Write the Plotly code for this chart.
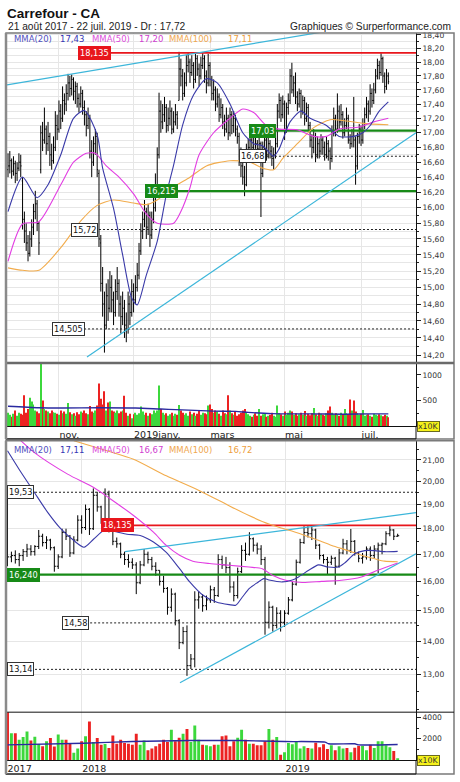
import math
import plotly.graph_objects as go

W, H = 460, 782

# ------------------------------------------------------------------ DATA
# Top chart: daily bars (trading-day index), 24 Sep 2018 -> 22 Jul 2019
d_open = [16.50,16.55,16.62,16.48,16.58,16.45,16.52,16.60,16.35,15.85,
          15.70,15.55,15.42,15.60,15.75,15.95,16.05,15.80,16.50,17.00,
          16.90,17.05,16.85,16.95,16.70,16.62,16.80,17.10,17.05,17.30,
          17.20,17.45,17.40,17.55,17.70,17.62,17.75,17.58,17.65,17.48,
          17.40,17.55,17.35,17.25,17.10,17.20,16.75,16.60,16.85,16.95,
          16.45,15.55,15.05,14.80,14.55,14.90,14.75,15.00,14.85,14.70,
          14.95,15.05,14.80,14.65,14.75,14.55,14.50,14.80,14.70,14.95,
          14.85,15.00,15.15,15.45,15.70,15.85,15.95,15.75,15.90,15.65,
          15.85,16.00,16.30,16.70,17.30,17.15,17.25,17.35,17.10,17.20,
          17.30,17.05,17.15,17.25,17.45,17.90,17.80,17.55,17.70,17.95,
          18.00,17.85,17.95,17.75,18.05,17.90,17.80,17.95,18.05,17.80,
          17.70,17.95,17.75,17.55,17.60,17.40,17.50,17.25,17.35,17.15,
          17.05,17.20,17.00,17.25,17.10,17.20,17.05,16.95,16.65,16.55,
          16.40,16.30,16.75,16.80,16.90,16.80,16.95,16.85,16.78,16.85,
          16.45,16.80,16.90,16.70,16.85,16.75,16.65,16.70,16.85,17.30,
          17.45,17.25,17.40,17.05,17.35,17.45,17.80,17.60,17.70,17.50,
          17.40,17.55,17.30,17.45,17.20,17.35,17.10,16.90,16.80,16.95,
          16.70,16.85,16.75,16.90,16.80,16.70,16.85,16.75,16.65,17.00,
          17.20,17.05,17.30,17.15,17.25,17.00,17.10,17.20,16.90,16.85,
          16.95,16.90,16.55,16.95,17.05,16.90,17.10,17.25,17.40,17.30,
          17.55,17.45,17.60,17.80,17.95,17.85,18.05,17.80,17.65,17.80]
d_high = [16.72,16.75,16.65,16.68,16.62,16.60,16.72,16.70,16.40,15.95,
          15.80,15.65,15.70,15.85,16.05,16.22,16.10,15.82,17.10,17.15,
          17.35,17.10,17.15,17.00,16.85,16.95,17.30,17.25,17.45,17.40,
          17.65,17.55,17.68,17.83,17.80,17.82,17.78,17.72,17.70,17.55,
          17.65,17.60,17.45,17.30,17.35,17.25,16.90,16.95,17.05,17.00,
          16.50,15.65,15.25,14.95,15.05,15.10,15.20,15.15,14.95,15.10,
          15.25,15.10,14.90,14.95,14.85,14.70,14.95,14.90,15.10,15.05,
          15.15,15.30,15.55,15.80,15.95,16.10,16.00,16.05,15.95,15.95,
          16.15,16.45,16.80,17.56,17.45,17.40,17.50,17.40,17.35,17.45,
          17.35,17.30,17.40,17.30,18.15,18.05,17.90,17.85,18.10,18.13,
          18.05,18.10,18.00,18.12,18.10,17.98,18.08,18.13,18.10,17.88,
          18.12,18.00,17.80,17.75,17.65,17.62,17.55,17.48,17.40,17.25,
          17.35,17.25,17.35,17.30,17.30,17.25,17.10,17.00,16.80,16.62,
          16.55,16.85,16.92,16.98,16.95,17.02,17.00,16.90,16.95,16.88,
          16.88,16.98,16.95,16.95,16.90,16.82,16.80,16.95,17.40,17.55,
          17.50,17.52,17.45,17.42,17.55,17.90,17.99,17.80,17.85,17.58,
          17.62,17.60,17.52,17.50,17.42,17.40,17.15,16.98,17.05,17.00,
          16.95,16.92,16.98,16.95,16.88,16.95,16.90,16.80,17.10,17.35,
          17.25,17.55,17.38,17.40,17.30,17.20,17.35,17.25,16.98,17.05,
          17.50,16.95,17.00,17.12,17.10,17.20,17.35,17.50,17.45,17.68,
          17.62,17.70,17.90,18.05,18.02,18.13,18.08,17.85,17.90,17.85]
d_low = [16.40,16.45,16.38,16.42,16.32,16.35,16.48,16.40,15.72,15.55,
         15.45,15.32,15.38,15.50,15.65,15.85,15.70,15.40,16.45,16.75,
         16.85,16.70,16.75,16.55,16.50,16.58,16.75,16.90,17.00,17.05,
         17.15,17.25,17.30,17.45,17.50,17.52,17.45,17.40,17.35,17.28,
         17.35,17.25,17.10,16.95,17.05,16.65,16.40,16.55,16.70,16.40,
         15.50,14.95,14.65,14.23,14.50,14.60,14.70,14.70,14.55,14.65,
         14.85,14.65,14.45,14.55,14.40,14.35,14.45,14.55,14.65,14.70,
         14.80,14.95,15.10,15.40,15.60,15.75,15.60,15.65,15.50,15.60,
         15.80,15.95,16.20,16.65,17.00,17.05,17.15,17.00,17.02,17.10,
         16.98,17.00,17.10,17.05,17.45,17.65,17.45,17.50,17.65,17.85,
         17.70,17.80,17.62,17.70,17.80,17.65,17.75,17.90,17.70,17.55,
         17.65,17.65,17.45,17.45,17.30,17.35,17.15,17.20,17.05,16.95,
         17.00,16.90,16.95,16.98,17.00,16.95,16.85,16.55,16.40,16.30,
         16.15,16.28,16.60,16.70,16.70,16.75,16.78,16.70,16.72,15.88,
         16.40,16.70,16.62,16.65,16.65,16.55,16.50,16.65,16.80,17.20,
         17.15,17.20,16.90,17.00,17.25,17.40,17.55,17.50,17.40,17.30,
         17.35,17.20,17.25,17.10,17.15,17.02,16.80,16.65,16.72,16.60,
         16.65,16.65,16.70,16.70,16.62,16.65,16.62,16.50,16.60,16.95,
         16.95,17.00,17.05,17.10,16.92,16.95,17.05,16.85,16.78,16.80,
         16.80,16.30,16.50,16.85,16.82,16.85,17.05,17.20,17.15,17.25,
         17.35,17.40,17.55,17.75,17.75,17.80,17.70,17.55,17.60,17.68]
d_close = [16.55,16.62,16.48,16.58,16.45,16.52,16.60,16.55,15.85,15.70,
           15.55,15.42,15.60,15.75,15.95,16.05,15.80,15.55,17.00,16.90,
           17.05,16.85,16.95,16.70,16.62,16.80,17.10,17.05,17.30,17.20,
           17.45,17.40,17.55,17.70,17.62,17.75,17.58,17.65,17.48,17.40,
           17.55,17.35,17.25,17.10,17.20,16.75,16.60,16.85,16.95,16.50,
           15.60,15.05,14.80,14.55,14.90,14.75,15.00,14.85,14.70,14.95,
           15.05,14.80,14.65,14.75,14.55,14.50,14.80,14.70,14.95,14.85,
           15.00,15.15,15.45,15.70,15.85,15.95,15.75,15.90,15.65,15.85,
           16.00,16.30,16.70,17.30,17.15,17.25,17.35,17.10,17.20,17.30,
           17.05,17.15,17.25,17.20,17.90,17.80,17.55,17.70,17.95,18.00,
           17.85,17.95,17.75,18.05,17.90,17.80,17.95,18.05,17.80,17.70,
           17.95,17.75,17.55,17.60,17.40,17.50,17.25,17.35,17.15,17.05,
           17.20,17.00,17.25,17.10,17.20,17.05,16.95,16.65,16.55,16.40,
           16.30,16.75,16.80,16.90,16.80,16.95,16.85,16.78,16.85,16.45,
           16.80,16.90,16.70,16.85,16.75,16.65,16.70,16.85,17.30,17.45,
           17.25,17.40,17.05,17.35,17.45,17.80,17.60,17.70,17.50,17.40,
           17.55,17.30,17.45,17.20,17.35,17.10,16.90,16.80,16.95,16.70,
           16.85,16.75,16.90,16.80,16.70,16.85,16.75,16.65,17.00,17.20,
           17.05,17.30,17.15,17.25,17.00,17.10,17.20,16.90,16.85,16.95,
           16.90,16.55,16.95,17.05,16.90,17.10,17.25,17.40,17.30,17.55,
           17.45,17.60,17.80,17.95,17.85,18.05,17.80,17.65,17.80,17.72]
d_vol = [260,220,180,240,300,200,260,240,220,600,
         260,330,550,480,420,300,280,250,1230,500,
         330,300,280,250,300,270,260,240,220,300,
         250,280,240,450,270,230,250,200,270,230,
         280,260,300,250,230,390,280,260,300,400,
         830,530,420,680,300,460,480,300,280,260,
         300,250,280,300,590,260,200,240,150,230,
         260,220,250,380,280,220,260,200,250,230,
         300,260,300,790,330,260,220,250,200,230,
         260,200,240,220,410,300,260,220,250,200,
         280,230,260,200,240,300,220,260,250,230,
         400,420,330,260,300,280,240,200,300,250,
         230,600,300,250,220,280,200,230,260,300,
         330,260,230,200,180,220,250,200,330,200,
         230,250,180,200,220,260,200,180,400,250,
         230,200,280,220,260,300,280,220,250,200,
         230,260,220,290,200,240,210,250,350,230,
         200,260,240,220,200,250,300,380,260,220,
         250,230,200,260,220,330,250,230,520,300,
         500,280,250,220,240,310,200,220,230,200,
         180,240,220,200,230,210,190,220,200,170]
d_tick_idx = [28, 69, 111, 152, 194]
d_tick_lbl = ["nov.", "2019janv.", "mars", "mai", "juil."]

d_ma20_i = [0,8,16,22,29,36,42,49,52,58,63,68,71,76,82,87,91,96,102,109,
            115,122,129,135,140,146,149,155,161,166,175,182,190,195,199,204,209]
d_ma20 = [15.95,16.40,16.13,16.30,16.70,17.20,17.31,16.97,16.52,15.99,
          15.40,14.87,14.79,15.15,15.57,16.17,16.56,17.11,17.53,17.76,
          17.70,17.40,17.00,16.85,16.82,16.68,16.78,17.15,17.30,17.20,
          17.10,16.95,16.95,17.00,17.10,17.30,17.43]
d_ma50_i = [0,8,17,29,36,43,48,54,61,69,76,82,91,95,100,105,113,122,129,135,
            142,149,159,168,175,182,193,201,209]
d_ma50 = [15.32,15.79,15.82,16.30,16.60,16.72,16.72,16.55,16.40,16.18,
          15.92,15.80,15.80,15.95,16.26,16.70,17.00,17.20,17.33,17.28,
          17.10,17.05,17.04,16.95,16.95,17.05,17.08,17.15,17.20]
d_ma100_i = [0,8,17,29,40,49,58,69,76,82,91,100,109,122,133,140,146,151,159,168,
             177,184,195,209]
d_ma100 = [15.24,15.21,15.21,15.49,15.83,16.03,16.10,16.06,16.04,16.10,
           16.27,16.40,16.55,16.62,16.60,16.52,16.50,16.65,16.85,17.07,
           17.18,17.17,17.13,17.11]
d_vma_i = [0,17,30,50,70,84,92,113,125,132,145,165,185,200,209]
d_vma = [385,355,350,355,350,330,320,290,285,265,240,235,230,235,235]

d_trend_up_i = [-0.55, 224.2]
d_trend_up_p = [17.67, 18.68]
d_trend_lo_i = [43.4, 224.2]
d_trend_lo_p = [14.18, 17.0]

top_levels = [18.135, 17.03, 16.68, 16.215, 15.72, 14.505]
top_level_lbl = ["18,135", "17,03", "16,68", "16,215", "15,72", "14,505"]
top_legend_vals = ["17,43", "17,20", "17,11"]

# Bottom chart: weekly bars (week index), 21 Aug 2017 -> 22 Jul 2019
w_open = [19.30,16.90,16.95,16.80,16.95,17.10,17.20,17.10,17.30,17.70,
          17.45,17.55,17.25,16.55,16.90,17.85,17.70,17.05,17.55,18.35,
          18.05,18.80,18.00,19.40,18.90,18.40,19.45,18.05,17.50,17.40,
          17.00,16.80,16.70,16.60,15.95,16.60,17.00,16.80,16.55,16.40,
          16.00,15.75,15.10,15.55,14.65,13.95,14.30,13.25,13.45,15.35,
          15.45,15.15,15.35,15.70,15.50,16.80,16.60,16.50,15.80,15.50,
          16.35,17.15,17.00,17.60,17.35,17.20,16.80,14.60,15.10,14.50,
          14.90,14.60,14.90,15.35,15.90,16.70,17.45,17.85,17.80,17.95,
          17.35,16.95,16.80,16.70,16.85,16.55,17.05,17.40,17.15,17.50,
          17.05,16.85,16.90,17.20,16.95,17.20,17.35,17.40,17.80,17.95,
          17.70]
w_high = [19.45,17.10,17.15,17.05,17.20,17.40,17.35,17.35,17.95,17.80,
          17.70,17.60,17.30,17.00,18.00,18.00,17.75,17.70,18.55,18.55,
          19.00,18.85,19.70,19.55,18.95,19.70,19.60,18.10,17.65,17.45,
          17.10,17.00,16.85,16.70,16.75,17.20,17.10,16.90,16.70,16.40,
          16.20,15.80,15.75,15.60,14.70,14.45,14.50,13.60,15.65,15.65,
          15.55,15.50,15.85,15.80,17.00,16.95,16.90,16.70,16.00,16.50,
          17.35,17.45,17.86,17.65,17.45,17.35,16.90,15.30,15.15,15.10,
          15.00,15.00,15.45,16.00,16.80,17.60,18.10,18.10,18.12,18.00,
          17.40,17.00,16.90,16.95,16.90,17.20,17.60,17.55,17.99,17.55,
          17.10,17.05,17.30,17.30,17.35,17.45,17.45,17.90,18.13,17.98,
          17.80]
w_low = [16.55,16.70,16.65,16.55,16.75,16.90,16.95,16.95,17.20,17.30,
         17.20,17.15,16.35,16.45,16.85,17.55,16.90,17.00,17.50,17.80,
         17.95,17.75,17.95,18.70,18.20,18.35,17.85,17.35,17.25,16.85,
         16.60,16.50,16.45,15.55,15.90,16.55,16.65,16.40,16.20,15.85,
         15.60,14.85,14.95,14.50,13.75,13.90,12.95,13.15,13.20,15.05,
         14.95,15.00,15.25,15.25,15.45,16.45,16.30,15.60,15.30,15.40,
         16.30,16.75,16.95,17.10,17.00,16.60,14.20,14.40,14.30,14.40,
         14.30,14.45,14.85,15.30,15.85,16.65,17.40,17.65,17.55,17.20,
         16.80,16.65,16.25,16.60,15.88,16.50,17.00,17.00,17.05,16.95,
         16.70,16.65,16.80,16.75,16.85,16.30,17.00,17.35,17.70,17.55,
         17.68]
w_close = [16.90,16.95,16.80,16.95,17.10,17.20,17.10,17.30,17.70,17.45,
           17.55,17.25,16.55,16.90,17.85,17.70,17.05,17.55,18.35,18.05,
           18.80,18.00,19.40,18.90,18.40,19.45,18.05,17.50,17.40,17.00,
           16.80,16.70,16.60,15.95,16.60,17.00,16.80,16.55,16.40,16.00,
           15.75,15.10,15.55,14.65,13.95,14.30,13.25,13.45,15.35,15.45,
           15.15,15.35,15.70,15.50,16.80,16.60,16.50,15.80,15.50,16.35,
           17.15,17.00,17.60,17.35,17.20,16.80,14.60,15.10,14.50,14.90,
           14.60,14.90,15.35,15.90,16.70,17.45,17.85,17.80,17.95,17.35,
           16.95,16.80,16.70,16.85,16.55,17.05,17.40,17.15,17.50,17.05,
           16.85,16.90,17.20,16.95,17.20,17.35,17.40,17.80,17.95,17.70,
           17.72]
w_vol = [5000,2520,2520,1900,2160,2680,1835,2200,1520,1300,
         1760,2080,1270,2400,1900,1900,1600,680,1090,1760,
         2230,3620,1700,2080,1450,1500,1130,2310,1540,1900,
         1600,1540,1450,2470,1450,1830,920,1090,1290,1540,
         1900,1700,2840,1760,2100,2470,2930,1700,3250,1900,
         1450,1400,1300,1450,1450,2230,2310,1300,1760,2100,
         2840,1900,1540,1540,1400,1400,1760,2930,1900,2160,
         490,740,1600,1480,1760,1090,1300,1130,1090,1630,
         1210,1480,1030,1400,920,1300,1090,1130,740,1160,
         1330,1330,920,1450,1130,1760,1760,1400,1210,840,
         100]
w_tick_idx = [-0.13, 19, 71.14]
w_tick_lbl = ["2017", "2018", "2019"]

w_ma20_i = [0,3.5,6.9,10.3,13.7,17,19.6,22.1,24.7,27.2,30.6,34,37.4,40.7,44.1,46.7,
            50.1,53.5,56.8,58.5,60.2,62,64,65.7,67,70.4,73,74.6,77.2,79.7,82.2,84.8,
            86.5,89,91.6,94.1,96.6,100]
w_ma20 = [21.43,20.41,19.52,18.67,17.99,17.53,17.27,17.59,17.93,17.90,
          17.78,17.73,17.47,17.07,16.46,15.98,15.51,15.28,15.19,15.17,
          15.45,15.75,15.95,16.10,16.05,15.98,16.05,16.16,16.40,16.60,
          16.52,16.52,16.68,17.02,17.14,17.14,17.10,17.11]
w_ma50_i = [3.4,6.9,15.4,22.1,26.4,32.3,37.4,40.7,44.1,47.5,51.8,56.8,61.9,65.3,
            67.9,71.3,75.5,80.5,85.6,90.7,94.9,100]
w_ma50 = [21.92,21.34,20.34,19.74,19.24,18.54,17.86,17.34,16.96,16.74,
          16.65,16.59,16.52,16.46,16.22,16.04,15.96,16.00,16.04,16.16,
          16.40,16.67]
w_ma100_i = [17,25.5,32.3,40.7,49.2,56.8,61.9,67.0,69.5,73.8,78.8,83.1,87.3,90.7,
             94.1,96.6,100]
w_ma100 = [21.92,21.43,21.03,20.26,19.60,18.95,18.54,18.19,18.06,17.86,
           17.59,17.34,17.14,16.96,16.83,16.74,16.72]
w_vma_i = [0,19.5,32,46.7,59.4,71,81.4,82.3,89,90,100]
w_vma = [1430,1580,1740,1835,1835,1740,1680,1530,1530,1430,1460]

w_trend_up_i = [30.1, 104.7]
w_trend_up_p = [17.1, 18.66]
w_trend_lo_i = [44.2, 104.7]
w_trend_lo_p = [12.75, 17.02]

bot_levels = [19.53, 18.135, 16.24, 14.58, 13.14]
bot_level_lbl = ["19,53", "18,135", "16,240", "14,58", "13,14"]
bot_legend_vals = ["17,11", "16,67", "16,72"]

# ------------------------------------------------------------------ STYLE / LAYOUT
def fx(px):
    return px / W

def fy(py):
    return 1 - py / H

X_L, X_R = 7, 416
D_RANGE = [-0.55, 224.2]
W_RANGE = [-0.13, 104.7]
TOP_PRANGE = [math.log10(14.11), math.log10(18.43)]
BOT_PRANGE = [math.log10(11.94), math.log10(21.91)]

C20, C50, C100 = "#3a3aa8", "#e23de2", "#f2ac4c"
CYAN = "#3cb6da"
UPV, DNV = "#3cd83c", "#ec2222"
RED, GREEN = "#e8161c", "#178a17"
GRID = "#e6e6e6"
FONT = "DejaVu Sans"

# level label styles & positions (kind, x of label box)
top_level_kind = ["res", "sup", "dash", "sup", "dash", "dash"]
top_level_x = [38.5, 132.4, 126.9, 75.3, 34.6, 24.2]
bot_level_kind = ["dash", "res", "sup", "dash", "dash"]
bot_level_x = [W_RANGE[0], 24.0, W_RANGE[0], 14.0, W_RANGE[0]]

fig = go.Figure()


def level_lines(levels, kinds, xs, xend, xa, ya):
    for v, k, x0 in zip(levels, kinds, xs):
        if k == "res":
            ln = dict(color=RED, width=1.6)
        elif k == "sup":
            ln = dict(color=GREEN, width=2.2)
        else:
            ln = dict(color="#222222", width=1, dash="2px,2px")
        fig.add_trace(go.Scatter(x=[x0, xend], y=[v, v], mode="lines", line=ln,
                                 xaxis=xa, yaxis=ya, hoverinfo="skip", showlegend=False))


def trend(xs, ps, xa, ya):
    fig.add_trace(go.Scatter(x=xs, y=ps, mode="lines", line=dict(color=CYAN, width=1.2),
                             xaxis=xa, yaxis=ya, hoverinfo="skip", showlegend=False))


def ohlc(x, o, h, l, c, xa, ya, tw):
    fig.add_trace(go.Ohlc(x=x, open=o, high=h, low=l, close=c, xaxis=xa, yaxis=ya,
                          increasing=dict(line=dict(color="black", width=1)),
                          decreasing=dict(line=dict(color="black", width=1)),
                          tickwidth=tw, hoverinfo="skip", showlegend=False))


def ma(xs, ys, color, xa, ya, w=1.1):
    fig.add_trace(go.Scatter(x=xs, y=ys, mode="lines",
                             line=dict(color=color, width=w, shape="spline", smoothing=0.7),
                             xaxis=xa, yaxis=ya, hoverinfo="skip", showlegend=False))


def volume(x, v, o, c, xa, ya, width):
    cols = [UPV if cc >= oo else DNV for oo, cc in zip(o, c)]
    fig.add_trace(go.Bar(x=x, y=v, marker=dict(color=cols, line=dict(width=0)), width=width,
                         xaxis=xa, yaxis=ya, hoverinfo="skip", showlegend=False))


d_x = list(range(len(d_close)))
w_x = list(range(len(w_close)))

# top chart
level_lines(top_levels, top_level_kind, top_level_x, D_RANGE[1], "x", "y")
trend(d_trend_up_i, d_trend_up_p, "x", "y")
trend(d_trend_lo_i, d_trend_lo_p, "x", "y")
ohlc(d_x, d_open, d_high, d_low, d_close, "x", "y", 0.45)
ma(d_ma100_i, d_ma100, C100, "x", "y")
ma(d_ma50_i, d_ma50, C50, "x", "y")
ma(d_ma20_i, d_ma20, C20, "x", "y")
volume(d_x, d_vol, d_open, d_close, "x", "y2", 0.55)
ma(d_vma_i, d_vma, "#2a2aa0", "x", "y2", 1.4)

# bottom chart
level_lines(bot_levels, bot_level_kind, bot_level_x, W_RANGE[1], "x2", "y3")
trend(w_trend_up_i, w_trend_up_p, "x2", "y3")
trend(w_trend_lo_i, w_trend_lo_p, "x2", "y3")
ohlc(w_x, w_open, w_high, w_low, w_close, "x2", "y3", 0.4)
ma(w_ma100_i, w_ma100, C100, "x2", "y3")
ma(w_ma50_i, w_ma50, C50, "x2", "y3")
ma(w_ma20_i, w_ma20, C20, "x2", "y3")
volume(w_x, w_vol, w_open, w_close, "x2", "y4", 0.75)
ma(w_vma_i, w_vma, "#2a2aa0", "x2", "y4", 1.4)

# ---- axes
def fmt2(v):
    return f"{v:.2f}".replace(".", ",")

top_major = [round(14.2 + 0.2 * k, 2) for k in range(22)]
top_minor = [round(14.1 + 0.2 * k, 2) for k in range(22)]
bot_major = [float(k) for k in range(13, 22)]
bot_minor = [12.0] + [k + 0.5 for k in range(12, 22)]

tickfont = dict(family=FONT, size=7.6, color="#333333")
common_y = dict(side="right", ticks="outside", ticklen=4, tickcolor="#222",
                showline=True, linecolor="#111", linewidth=1, zeroline=False,
                tickfont=tickfont, fixedrange=True)

fig.update_layout(
    width=W, height=H, margin=dict(l=0, r=0, t=0, b=0),
    paper_bgcolor="white", plot_bgcolor="white", showlegend=False,
    xaxis=dict(domain=[fx(X_L), fx(X_R)], range=D_RANGE, anchor="y2",
               tickmode="array", tickvals=d_tick_idx, ticktext=d_tick_lbl,
               ticks="", showgrid=True, gridcolor=GRID, showline=True, linecolor="#111",
               zeroline=False, ticklabelposition="outside right",
               tickfont=dict(family=FONT, size=9.5, color="#222"),
               rangeslider=dict(visible=False)),
    yaxis=dict(domain=[fy(362), fy(31)], type="log", range=TOP_PRANGE, anchor="x",
               tickmode="array", tickvals=top_major, ticktext=[fmt2(v) for v in top_major],
               showgrid=True, gridcolor=GRID,
               minor=dict(tickmode="array", tickvals=top_minor, ticks="outside", ticklen=2,
                          tickcolor="#222", showgrid=True, gridcolor=GRID),
               **common_y),
    yaxis2=dict(domain=[fy(425), fy(363)], range=[0, 1212], anchor="x",
                tickmode="array", tickvals=[500, 1000], ticktext=["500", "1000"],
                showgrid=False,
                minor=dict(tickmode="array", tickvals=[250, 750], ticks="outside",
                           ticklen=2, tickcolor="#222", showgrid=False),
                **common_y),
    xaxis2=dict(domain=[fx(X_L), fx(X_R)], range=W_RANGE, anchor="y4",
                tickmode="array", tickvals=w_tick_idx, ticktext=w_tick_lbl,
                ticks="", showgrid=True, gridcolor=GRID, showline=True, linecolor="#111",
                zeroline=False, ticklabelposition="outside right",
                tickfont=dict(family=FONT, size=9.5, color="#222"),
                rangeslider=dict(visible=False)),
    yaxis3=dict(domain=[fy(712), fy(440)], type="log", range=BOT_PRANGE, anchor="x2",
                tickmode="array", tickvals=bot_major, ticktext=[fmt2(v) for v in bot_major],
                showgrid=True, gridcolor=GRID,
                minor=dict(tickmode="array", tickvals=bot_minor, ticks="outside", ticklen=2,
                           tickcolor="#222", showgrid=False),
                **common_y),
    yaxis4=dict(domain=[fy(760), fy(712)], range=[0, 4500], anchor="x2",
                tickmode="array", tickvals=[2000, 4000], ticktext=["2000", "4000"],
                showgrid=False,
                minor=dict(tickmode="array", tickvals=[1000, 3000], ticks="outside",
                           ticklen=2, tickcolor="#222", showgrid=False),
                **common_y),
)

# ---- frames
shapes = []
def pline(x0, y0, x1, y1, color, width):
    shapes.append(dict(type="line", xref="paper", yref="paper",
                       x0=fx(x0), y0=fy(y0), x1=fx(x1), y1=fy(y1),
                       line=dict(color=color, width=width)))

def prect(x0, y0, x1, y1, color, width):
    shapes.append(dict(type="rect", xref="paper", yref="paper",
                       x0=fx(x0), y0=fy(y0), x1=fx(x1), y1=fy(y1),
                       line=dict(color=color, width=width)))

prect(6, 31, 454, 438, "#7a7a7a", 1.5)
pline(6, 362, 454, 362, "#6a6a6a", 2.5)
pline(6, 438, 416, 438, "#111", 1)
pline(416, 425, 416, 438, "#111", 1)
prect(6, 440, 454, 774, "#7a7a7a", 1.5)
pline(6, 712, 454, 712, "#111", 1)
pline(6, 774, 416, 774, "#111", 1)
pline(416, 760, 416, 774, "#111", 1)
pline(6, 31, 6, 438, "#8a8a8a", 2.5)
pline(6, 440, 6, 774, "#8a8a8a", 2.5)
fig.update_layout(shapes=shapes)

# ---- annotations
ann = []

def level_labels(levels, labels, kinds, xs, xa, ya):
    for v, t, k, x0 in zip(levels, labels, kinds, xs):
        if k == "res":
            bg, bc, tc = RED, RED, "white"
        elif k == "sup":
            bg, bc, tc = GREEN, GREEN, "white"
        else:
            bg, bc, tc = "white", "#333", "#111"
        ann.append(dict(x=x0, y=math.log10(v), xref=xa, yref=ya, text=t, showarrow=False,
                        xanchor="left", yanchor="middle", bgcolor=bg, bordercolor=bc,
                        borderwidth=1, borderpad=1,
                        font=dict(family=FONT, size=8.2, color=tc)))

level_labels(top_levels, top_level_lbl, top_level_kind, top_level_x, "x", "y")
level_labels(bot_levels, bot_level_lbl, bot_level_kind, bot_level_x, "x2", "y3")

def ptext(x, y, text, size, color, anchor="left", family=FONT, bold=False):
    if bold:
        text = f"<b>{text}</b>"
    ann.append(dict(x=fx(x), y=fy(y), xref="paper", yref="paper", text=text,
                    showarrow=False, xanchor=anchor, yanchor="middle",
                    font=dict(family=family, size=size, color=color)))

ptext(5, 12, "Carrefour - CA", 13.5, "#111", family="Liberation Sans", bold=True)
ptext(6, 24.5, "21 août 2017 - 22 juil. 2019 - Dr : 17,72", 10.2, "#222",
      family="Liberation Sans")
ptext(453, 24.5, "Graphiques © Surperformance.com", 10.2, "#222", anchor="right",
      family="Liberation Sans")

leg_x = [12, 58, 90, 137, 167, 226]
for (yy, vals) in [(37.5, top_legend_vals), (449, bot_legend_vals)]:
    ptext(leg_x[0], yy, "MMA(20)", 8.5, "#5050c0")
    ptext(leg_x[1], yy, vals[0], 8.5, "#3434b4")
    ptext(leg_x[2], yy, "MMA(50)", 8.5, "#dc50dc")
    ptext(leg_x[3], yy, vals[1], 8.5, "#d040d0")
    ptext(leg_x[4], yy, "MMA(100)", 8.5, "#f0a850")
    ptext(leg_x[5], yy, vals[2], 8.5, "#eea040")

for yy in (425.5, 760):
    ann.append(dict(x=fx(417), y=fy(yy), xref="paper", yref="paper", text="x10K",
                    showarrow=False, xanchor="left", yanchor="middle",
                    bgcolor="#f6f21a", bordercolor="#6a6a20", borderwidth=1, borderpad=0,
                    font=dict(family=FONT, size=7.8, color="#333")))

fig.update_layout(annotations=ann)
fig.write_html("out.html")
